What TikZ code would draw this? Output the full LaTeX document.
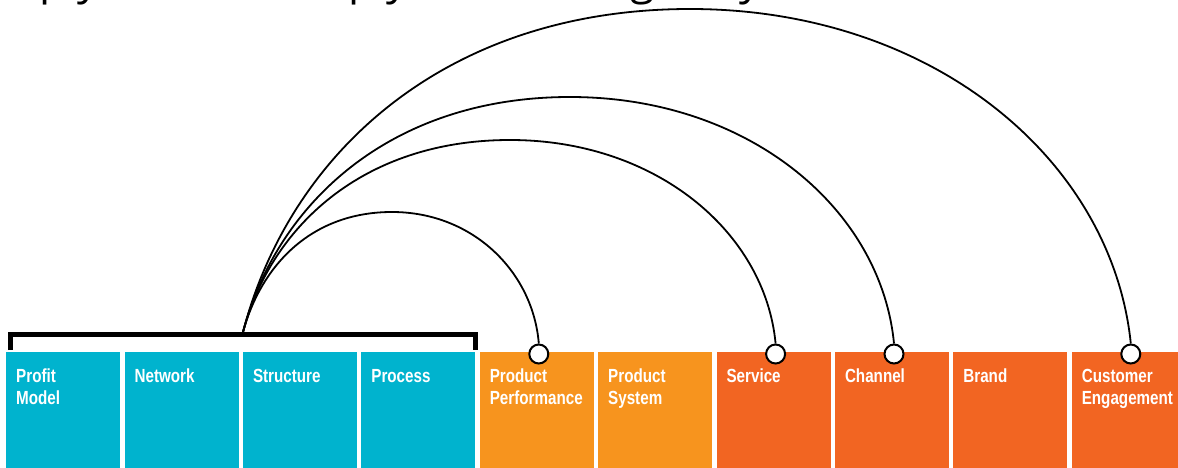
\documentclass[tikz,border=0pt]{standalone}
\usepackage{fontspec}
\usetikzlibrary{backgrounds}
\newfontfamily\boxfont[FakeStretch=0.8]{Liberation Sans}
\newfontfamily\topfont{Open Sans}
\definecolor{cyanbox}{HTML}{00B3CE}
\definecolor{orangelt}{HTML}{F7941E}
\definecolor{orangedk}{HTML}{F26522}
\begin{document}
\begin{tikzpicture}[x=1pt,y=-1pt,
  box/.style={anchor=north west, minimum width=114pt, minimum height=118pt, inner sep=0pt, draw=none},
  lbl/.style={anchor=north west, inner sep=0pt, align=left, text=white,
    font=\boxfont\bfseries\fontsize{19}{22}\selectfont},
  port/.style={circle, draw=black, line width=2pt, fill=white, minimum size=19pt, inner sep=0pt},
  arcline/.style={draw=black, line width=1.8pt},
  bracketline/.style={draw=black, line width=5pt},
  toptext/.style={anchor=base east, inner sep=0pt, text=black, font=\topfont\fontsize{44}{50}\selectfont}]
\clip (0,0) rectangle (1178,468);
\begin{pgfonlayer}{background}
\fill[white] (0,0) rectangle (1178,468);
\end{pgfonlayer}

% top (cut-off) text
\node[toptext] (t1) at (100,-5) {Simply};
\node[toptext] (t2) at (409,-5) {reply};
\node[toptext] (t3) at (762,-5) {originally};

% boxes
\node[box, fill=cyanbox]  (b1)  at (6,352) {};
\node[box, fill=cyanbox]  (b2)  at (124.4,352) {};
\node[box, fill=cyanbox]  (b3)  at (242.8,352) {};
\node[box, fill=cyanbox]  (b4)  at (361.2,352) {};
\node[box, fill=orangelt] (b5)  at (479.6,352) {};
\node[box, fill=orangelt] (b6)  at (598,352) {};
\node[box, fill=orangedk] (b7)  at (716.4,352) {};
\node[box, fill=orangedk] (b8)  at (834.8,352) {};
\node[box, fill=orangedk] (b9)  at (953.2,352) {};
\node[box, fill=orangedk] (b10) at (1071.6,352) {};

% labels
\node[lbl] (l1)  at ([shift={(10,17)}]b1.north west)  {Profit\\Model};
\node[lbl] (l2)  at ([shift={(10,17)}]b2.north west)  {Network};
\node[lbl] (l3)  at ([shift={(10,17)}]b3.north west)  {Structure};
\node[lbl] (l4)  at ([shift={(10,17)}]b4.north west)  {Process};
\node[lbl] (l5)  at ([shift={(10,17)}]b5.north west)  {Product\\Performance};
\node[lbl] (l6)  at ([shift={(10,17)}]b6.north west)  {Product\\System};
\node[lbl] (l7)  at ([shift={(10,17)}]b7.north west)  {Service};
\node[lbl] (l8)  at ([shift={(10,17)}]b8.north west)  {Channel};
\node[lbl] (l9)  at ([shift={(10,17)}]b9.north west)  {Brand};
\node[lbl] (l10) at ([shift={(10,17)}]b10.north west) {Customer\\Engagement};

% bracket
\coordinate (bl) at (10,350);
\coordinate (br) at (475,350);
\coordinate (o) at (242.5,334);
\draw[bracketline] (bl) |- (o) -| (br);

% ports
\node[port] (c1) at ([shift={(2,2)}]b5.north) {};
\node[port] (c2) at ([shift={(2,2)}]b7.north) {};
\node[port] (c3) at ([shift={(2,2)}]b8.north) {};
\node[port] (c4) at ([shift={(2,2)}]b10.north) {};

% arcs (behind the ports)
\begin{pgfonlayer}{background}
\draw[arcline] (o) .. controls (260,267) and (310,212) .. (392,212) .. controls (473,212) and (533,272) .. (c1.north);
\draw[arcline] (o) .. controls (270,227) and (363,140) .. (510,140) .. controls (656,140) and (765,232) .. (c2.north);
\draw[arcline] (o) .. controls (276,204) and (390,97) .. (570,97) .. controls (749,97) and (881,209) .. (c3.north);
\draw[arcline] (o) .. controls (288,155) and (444,9) .. (690,9) .. controls (933,9) and (1112,160) .. (c4.north);
\end{pgfonlayer}
\end{tikzpicture}
\end{document}
